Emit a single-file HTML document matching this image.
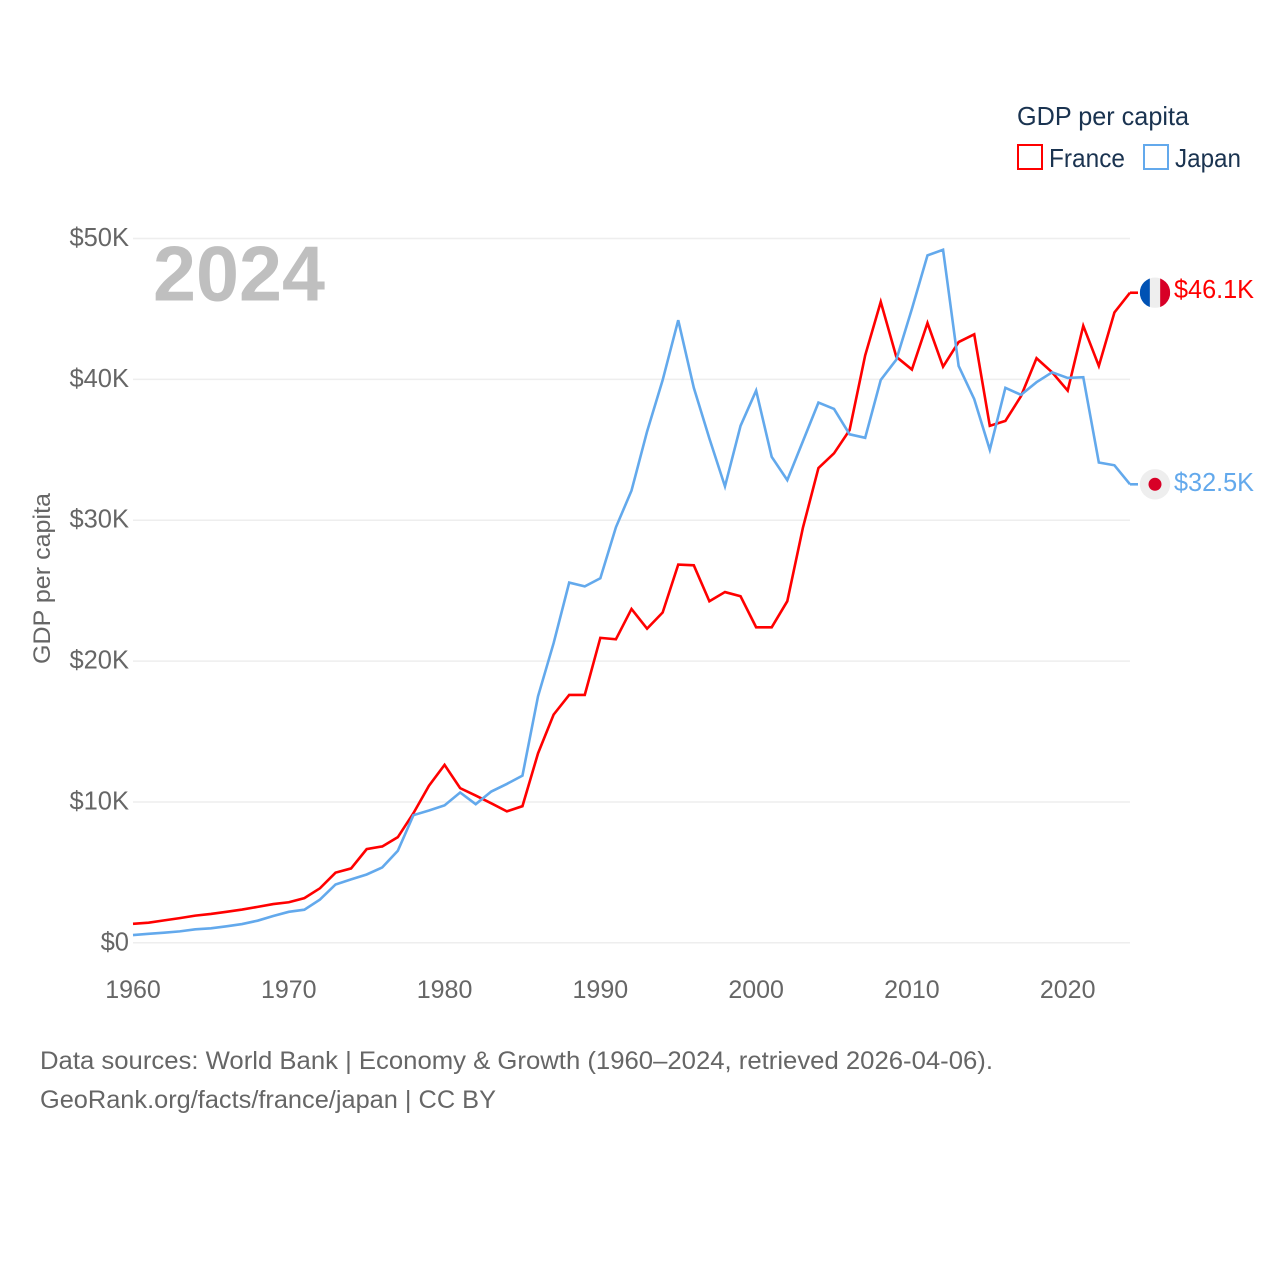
<!DOCTYPE html>
<html lang="en">
<head>
<meta charset="utf-8">
<title>GDP per capita: France and Japan</title>
<style>
html,body{margin:0;padding:0;background:#fff;width:1280px;height:1280px;overflow:hidden}
svg{display:block;font-family:"Liberation Sans",sans-serif}
</style>
</head>
<body>
<svg id="chart" xmlns="http://www.w3.org/2000/svg" width="1280" height="1280" viewBox="0 0 1280 1280">
  <rect x="0" y="0" width="1280" height="1280" fill="#fff"/>
  <g id="grid"></g>
  <g id="yticks"></g>
  <g id="xticks"></g>
  <text x="153" y="300.5" font-size="78" font-weight="700" fill="#bfbfbf" textLength="172" lengthAdjust="spacingAndGlyphs">2024</text>
  <text transform="translate(50,578.5) rotate(-90)" text-anchor="middle" font-size="24.5" fill="#666" textLength="171" lengthAdjust="spacingAndGlyphs">GDP per capita</text>
  <g id="series"></g>
  <g id="endmarks"></g>
  <g>
    <text x="1017" y="125" font-size="26" fill="#1a3350" textLength="172" lengthAdjust="spacingAndGlyphs">GDP per capita</text>
    <g>
      <rect x="1018" y="145" width="24" height="24" fill="none" stroke="#ff0000" stroke-width="2"/>
      <text x="1049" y="167" font-size="26" fill="#1a3350" textLength="76" lengthAdjust="spacingAndGlyphs">France</text>
    </g>
    <g>
      <rect x="1144" y="145" width="24" height="24" fill="none" stroke="#63a9ec" stroke-width="2"/>
      <text x="1175" y="167" font-size="26" fill="#1a3350" textLength="66" lengthAdjust="spacingAndGlyphs">Japan</text>
    </g>
  </g>
  <g>
    <text x="40" y="1069" font-size="25" fill="#666" textLength="953" lengthAdjust="spacingAndGlyphs">Data sources: World Bank | Economy &amp; Growth (1960–2024, retrieved 2026-04-06).</text>
    <text x="40" y="1108" font-size="25" fill="#666" textLength="456" lengthAdjust="spacingAndGlyphs">GeoRank.org/facts/france/japan | CC BY</text>
  </g>
</svg>
<script>
const years = [1960,1961,1962,1963,1964,1965,1966,1967,1968,1969,1970,1971,1972,1973,1974,1975,1976,1977,1978,1979,1980,1981,1982,1983,1984,1985,1986,1987,1988,1989,1990,1991,1992,1993,1994,1995,1996,1997,1998,1999,2000,2001,2002,2003,2004,2005,2006,2007,2008,2009,2010,2011,2012,2013,2014,2015,2016,2017,2018,2019,2020,2021,2022,2023,2024];
const franceValues = [1.35,1.43,1.59,1.75,1.93,2.05,2.2,2.36,2.55,2.75,2.88,3.17,3.87,4.98,5.28,6.65,6.84,7.5,9.2,11.15,12.63,10.98,10.45,9.9,9.33,9.7,13.45,16.2,17.6,17.6,21.65,21.55,23.7,22.3,23.45,26.85,26.8,24.25,24.9,24.6,22.4,22.4,24.25,29.45,33.7,34.75,36.4,41.7,45.5,41.6,40.7,44.0,40.9,42.65,43.2,36.7,37.05,38.8,41.5,40.5,39.2,43.8,40.95,44.75,46.15];
const japanValues = [0.55,0.64,0.72,0.81,0.96,1.03,1.17,1.33,1.57,1.9,2.2,2.35,3.07,4.14,4.5,4.85,5.35,6.53,9.06,9.39,9.76,10.67,9.84,10.74,11.28,11.87,17.5,21.27,25.57,25.3,25.88,29.5,32.1,36.3,39.95,44.2,39.4,35.8,32.4,36.7,39.2,34.5,32.85,35.6,38.35,37.9,36.1,35.85,39.96,41.4,45.0,48.8,49.2,40.95,38.6,35.0,39.4,38.9,39.8,40.5,40.1,40.15,34.1,33.9,32.55];
const yTickValues = [0,10,20,30,40,50];
const yTickLabels = ["$0","$10K","$20K","$30K","$40K","$50K"];
const xTickValues = [1960,1970,1980,1990,2000,2010,2020];
const xTickLabels = ["1960","1970","1980","1990","2000","2010","2020"];
const franceEndLabel = "$46.1K";
const japanEndLabel = "$32.5K";

const NS = "http://www.w3.org/2000/svg";
const X0 = 133, X1 = 1130, Y0 = 942.8, Y50 = 238.5;
function xScale(year){ return X0 + (year - years[0]) * (X1 - X0) / (years[years.length-1] - years[0]); }
function yScale(v){ return Y0 + v * (Y50 - Y0) / 50; }
function make(tag, attrs, parent){
  const el = document.createElementNS(NS, tag);
  for (const k in attrs) el.setAttribute(k, attrs[k]);
  parent.appendChild(el);
  return el;
}
const gridG = document.getElementById('grid');
const yG = document.getElementById('yticks');
yTickValues.forEach(function(v, i){
  const line = make('line', {x1:X0, x2:X1, y1:yScale(v), y2:yScale(v), stroke:'#eeeeee', 'stroke-width':1.5}, gridG);
  
  
  const t = make('text', {x:129, y:yScale(v)+7.5, 'text-anchor':'end', 'font-size':25.5, fill:'#666'}, yG);
  
  
  t.textContent = yTickLabels[i];
});
const xG = document.getElementById('xticks');
xTickValues.forEach(function(yr, i){
  const t = make('text', {x:xScale(yr), y:998, 'text-anchor':'middle', 'font-size':25, fill:'#666'}, xG);
  
  
  t.textContent = xTickLabels[i];
});
function pathFor(values){
  return values.map(function(v, i){ return (i ? 'L' : 'M') + xScale(years[i]).toFixed(2) + ' ' + yScale(v).toFixed(2); }).join(' ');
}
const seriesG = document.getElementById('series');
const franceLine = make('path', {d:pathFor(franceValues), fill:'none', stroke:'#ff0000', 'stroke-width':2.6, 'stroke-linejoin':'miter'}, seriesG);


const japanLine = make('path', {d:pathFor(japanValues), fill:'none', stroke:'#63a9ec', 'stroke-width':2.6, 'stroke-linejoin':'miter'}, seriesG);



const endG = document.getElementById('endmarks');
const fy = yScale(franceValues[franceValues.length-1]);
const jy = yScale(japanValues[japanValues.length-1]);
const FX = 1155, R = 15.2;
const fStub = make('line', {x1:X1, x2:1138, y1:fy, y2:fy, stroke:'#ff0000', 'stroke-width':2.6}, endG);


const jStub = make('line', {x1:X1, x2:1138, y1:jy, y2:jy, stroke:'#63a9ec', 'stroke-width':2.6}, endG);



const defs = make('defs', {}, endG);
const clip = make('clipPath', {id:'france-clip'}, defs);
make('circle', {cx:FX, cy:fy, r:R}, clip);
const flagF = make('g', {'clip-path':'url(#france-clip)'}, endG);


make('rect', {x:FX-R, y:fy-R, width:R*2, height:R*2, fill:'#eeeeee'}, flagF);
make('rect', {x:FX-R, y:fy-R, width:R*0.66, height:R*2, fill:'#0052b4'}, flagF);
make('rect', {x:FX+R*0.34, y:fy-R, width:R*0.66, height:R*2, fill:'#d80027'}, flagF);

const flagJ = make('g', {}, endG);


make('circle', {cx:FX, cy:jy, r:R, fill:'#eeeeee'}, flagJ);
make('circle', {cx:FX, cy:jy, r:6.5, fill:'#d80027'}, flagJ);

const fLabel = make('text', {x:1174, y:fy+5.5, 'font-size':26, fill:'#ff0000', textLength:80, lengthAdjust:'spacingAndGlyphs'}, endG);


fLabel.textContent = franceEndLabel;
const jLabel = make('text', {x:1174, y:jy+6.5, 'font-size':26, fill:'#63a9ec', textLength:80, lengthAdjust:'spacingAndGlyphs'}, endG);


jLabel.textContent = japanEndLabel;
</script>
</body>
</html>
